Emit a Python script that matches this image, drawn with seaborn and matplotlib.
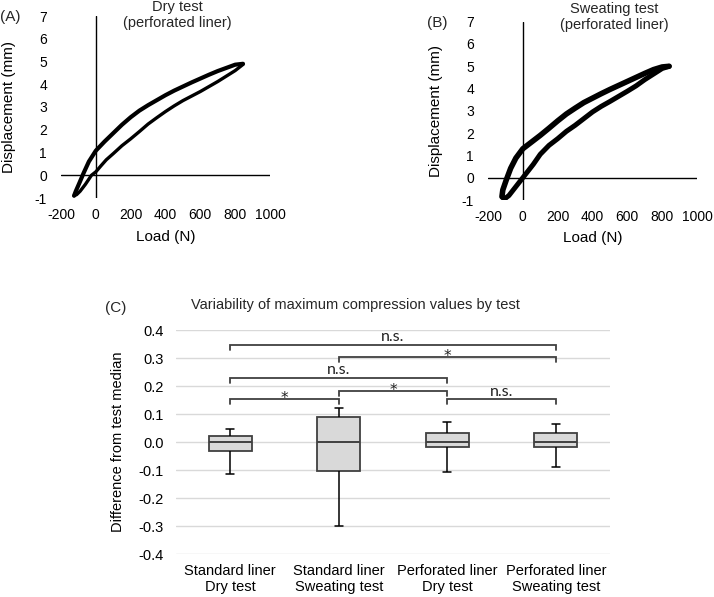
import numpy as np
import pandas as pd
import matplotlib
matplotlib.use("Agg")
import matplotlib.pyplot as plt
import seaborn as sns

sns.set_theme(style="white")
plt.rcParams['font.family'] = ['Liberation Sans', 'DejaVu Sans']

# ---------------- Panel A: dry test (perforated liner) ----------------
a_load_loading = [-125, -110, -90, -60, -25, 0, 30, 60, 100, 150, 200, 250, 300, 350, 400,
                  450, 500, 550, 600, 650, 700, 750, 800, 845]
a_disp_loading = [-0.9, -0.85, -0.7, -0.4, 0.0, 0.15, 0.42, 0.68, 0.95, 1.3, 1.6, 1.92, 2.25,
                  2.53, 2.8, 3.05, 3.28, 3.48, 3.68, 3.9, 4.12, 4.36, 4.6, 4.87]
a_load_unloading = [845, 800, 750, 700, 650, 600, 550, 500, 450, 400, 350, 300, 250, 200, 150,
                    100, 50, 0, -40, -70, -95, -115, -125]
a_disp_unloading = [4.9, 4.86, 4.72, 4.58, 4.42, 4.25, 4.08, 3.9, 3.72, 3.52, 3.3, 3.08, 2.84,
                    2.55, 2.22, 1.85, 1.48, 1.08, 0.6, 0.1, -0.35, -0.7, -0.9]

# ---------------- Panel B: sweating test (perforated liner) ----------------
b_load_loading = [-105, -80, -50, -20, 0, 30, 60, 100, 150, 200, 250, 300, 350, 400, 450, 500,
                  550, 600, 650, 700, 750, 800, 840]
b_disp_loading = [-0.95, -0.8, -0.5, -0.2, 0.0, 0.3, 0.6, 1.05, 1.45, 1.75, 2.08, 2.35, 2.65,
                  2.95, 3.2, 3.42, 3.65, 3.88, 4.12, 4.4, 4.65, 4.9, 5.0]
b_load_unloading = [840, 800, 750, 700, 650, 600, 550, 500, 450, 400, 350, 300, 250, 200, 150,
                    100, 50, 0, -40, -70, -95, -115, -120, -105]
b_disp_unloading = [5.0, 4.97, 4.85, 4.68, 4.5, 4.32, 4.14, 3.96, 3.77, 3.57, 3.37, 3.12, 2.86,
                    2.55, 2.22, 1.9, 1.6, 1.3, 0.88, 0.42, -0.1, -0.55, -0.85, -0.95]

load_ticks = [-200, 0, 200, 400, 600, 800, 1000]
disp_ticks = [-1, 0, 1, 2, 3, 4, 5, 6, 7]

# ---------------- Panel C: box plots ----------------
categories = ["Standard liner\nDry test", "Standard liner\nSweating test",
              "Perforated liner\nDry test", "Perforated liner\nSweating test"]
box_min = [-0.115, -0.300, -0.107, -0.090]
box_q1 = [-0.031, -0.105, -0.018, -0.019]
box_median = [0.0, 0.0, 0.0, 0.0]
box_q3 = [0.021, 0.089, 0.032, 0.031]
box_max = [0.046, 0.122, 0.071, 0.065]
c_ticks = [-0.4, -0.3, -0.2, -0.1, 0.0, 0.1, 0.2, 0.3, 0.4]
c_tick_labels = ["-0.4", "-0.3", "-0.2", "-0.1", "0.0", "0.1", "0.2", "0.3", "0.4"]

# significance brackets: (left group, right group, label, height)
sig_left = [0, 2, 1, 0, 1, 0]
sig_right = [1, 3, 2, 2, 3, 3]
sig_label = ["*", "n.s.", "*", "n.s.", "*", "n.s."]
sig_height = [0.153, 0.153, 0.183, 0.230, 0.303, 0.346]

W, H = 714, 597
fig = plt.figure(figsize=(W / 100, H / 100), dpi=100)
fig.patch.set_facecolor("white")


def px_axes(left, top, right, bottom):
    return fig.add_axes([left / W, 1 - bottom / H, (right - left) / W, (bottom - top) / H])


def hysteresis(ax, l1, d1, l2, d2, lw1, lw2, ylab_x):
    df1 = pd.DataFrame({"Load": l1, "Disp": d1})
    df2 = pd.DataFrame({"Load": l2, "Disp": d2})
    for df, lw in ((df1, lw1), (df2, lw2)):
        sns.lineplot(data=df, x="Load", y="Disp", sort=False, estimator=None, ax=ax,
                     color="black", lw=lw, solid_capstyle="round", solid_joinstyle="round")
    ax.axhline(0, color="black", lw=1.0, zorder=0)
    ax.axvline(0, color="black", lw=1.0, zorder=0)
    ax.set_xlim(-200, 1000)
    ax.set_ylim(-1, 7)
    for s in ax.spines.values():
        s.set_visible(False)
    ax.set_xticks(load_ticks)
    ax.set_xticklabels([str(v) for v in load_ticks])
    ax.set_yticks(disp_ticks)
    ax.set_yticklabels([str(v) for v in disp_ticks])
    ax.tick_params(axis="x", length=0, pad=7, labelsize=10, colors="black")
    ax.tick_params(axis="y", length=0, pad=10, labelsize=10, colors="black")
    ax.set_xlabel("Load (N)", fontsize=11, color="black")
    ax.set_ylabel("Displacement (mm)", fontsize=11, color="black")
    ax.xaxis.set_label_coords(0.5, -0.175)
    ax.yaxis.set_label_coords(ylab_x, 0.5)
    ax.set_facecolor("none")


axA = px_axes(61, 16, 270, 198)
hysteresis(axA, a_load_loading, a_disp_loading, a_load_unloading, a_disp_unloading,
           2.4, 3.0, -0.215)
axB = px_axes(488, 21.7, 697, 200)
hysteresis(axB, b_load_loading, b_disp_loading, b_load_unloading, b_disp_unloading,
           3.6, 4.0, -0.215)

fig.text(177 / W, 1 - 0.5 / H, "Dry test\n(perforated liner)", ha="center", va="top",
         fontsize=10.5, linespacing=1.15)
fig.text(614 / W, 1 - 1.5 / H, "Sweating test\n(perforated liner)", ha="center", va="top",
         fontsize=10.5, linespacing=1.2)
fig.text(10 / W, 1 - 17 / H, "(A)", ha="center", va="center", fontsize=11)
fig.text(437 / W, 1 - 23 / H, "(B)", ha="center", va="center", fontsize=11)

# ---------------- Panel C ----------------
axC = px_axes(176, 330, 610, 554)
rows = []
for cat, a, b, c, d, e in zip(categories, box_min, box_q1, box_median, box_q3, box_max):
    for v in (a, b, c, d, e):
        rows.append({"Group": cat, "Value": v})
dfc = pd.DataFrame(rows)

for t in c_ticks:
    axC.axhline(t, color="#d9d9d9", lw=1.0, zorder=0)

sns.boxplot(data=dfc, x="Group", y="Value", order=categories, ax=axC, whis=(0, 100),
            width=0.4, color="#d9d9d9", linecolor="#404040", linewidth=1.3,
            capwidths=0.075,
            whiskerprops=dict(color="black", linewidth=1.1),
            capprops=dict(color="black", linewidth=1.1),
            medianprops=dict(color="#404040", linewidth=1.4),
            showfliers=False)
for p in axC.patches:
    p.set_facecolor("#d9d9d9")
    p.set_edgecolor("#404040")

tick = 0.018
for l, r, lab, h in zip(sig_left, sig_right, sig_label, sig_height):
    axC.plot([l, l, r, r], [h - tick, h, h, h - tick], color="#404040", lw=1.3,
             solid_joinstyle="miter", zorder=3)
    if lab == "*":
        axC.text((l + r) / 2, h - 0.014, lab, ha="center", va="baseline", fontsize=11,
                 family=["DejaVu Sans"], color="#222222")
    else:
        axC.text((l + r) / 2, h + 0.013, lab, ha="center", va="baseline", fontsize=11.5,
                 family=["Lato", "DejaVu Sans"], color="#222222")

axC.set_xlim(-0.5, 3.5)
axC.set_ylim(-0.4, 0.4)
for s in axC.spines.values():
    s.set_visible(False)
axC.set_yticks(c_ticks)
axC.set_yticklabels(c_tick_labels)
axC.tick_params(axis="y", length=0, pad=9, labelsize=10.5, colors="black")
axC.tick_params(axis="x", length=0, pad=7, labelsize=10.5, colors="black")
axC.set_xlabel("")
axC.set_ylabel("Difference from test median", fontsize=10.5, color="black")
axC.yaxis.set_label_coords((125 - 176) / 434, 0.5)
axC.set_facecolor("none")

fig.text(355 / W, 1 - 305 / H, "Variability of maximum compression values by test",
         ha="center", va="center", fontsize=10.5)
fig.text(116 / W, 1 - 308 / H, "(C)", ha="center", va="center", fontsize=11)

fig.savefig("out.png", dpi=100, facecolor="white")
